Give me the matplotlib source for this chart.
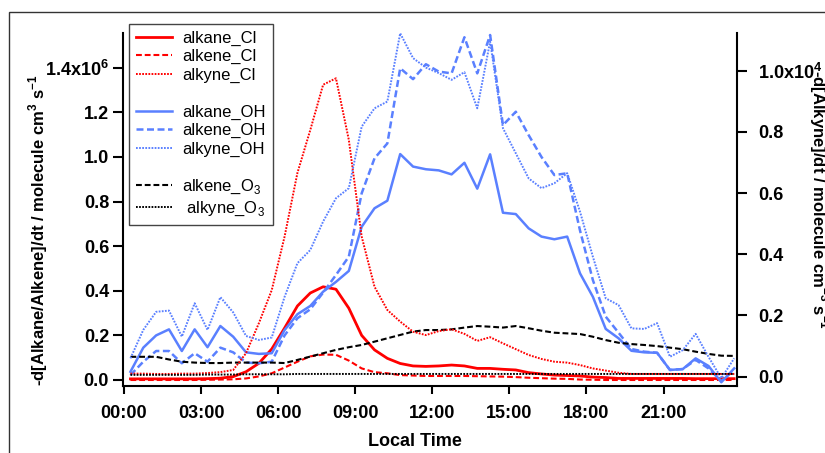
import matplotlib
matplotlib.use('Agg')
import matplotlib.pyplot as plt
import numpy as np
from matplotlib.lines import Line2D
from matplotlib.patches import Rectangle

plt.rcParams['font.family'] = ['Liberation Sans', 'DejaVu Sans']
plt.rcParams['mathtext.fontset'] = 'custom'
plt.rcParams['mathtext.rm'] = 'Liberation Sans'
plt.rcParams['mathtext.bf'] = 'Liberation Sans:bold'

# half-hour bins, hours of local time
hours = np.arange(0.25, 24, 0.5)

# left axis, units of 1e6 molecule cm-3 s-1
alkane_cl = [0.005, 0.005, 0.005, 0.005, 0.005, 0.005, 0.006, 0.008, 0.015, 0.037,
             0.075, 0.139, 0.233, 0.332, 0.39, 0.418, 0.407, 0.322, 0.2, 0.135,
             0.097, 0.074, 0.063, 0.061, 0.063, 0.067, 0.063, 0.052, 0.052, 0.048,
             0.045, 0.033, 0.027, 0.022, 0.02, 0.018, 0.013, 0.011, 0.007, 0.007,
             0.007, 0.007, 0.007, 0.007, 0.006, 0.006, 0.006, 0.006]
alkene_cl = [0.0, 0.0, 0.0, 0.0, 0.0, 0.0, 0.001, 0.002, 0.003, 0.007,
             0.016, 0.03, 0.056, 0.082, 0.106, 0.114, 0.113, 0.087, 0.052, 0.035,
             0.03, 0.022, 0.02, 0.018, 0.018, 0.018, 0.018, 0.017, 0.016, 0.015,
             0.013, 0.01, 0.008, 0.006, 0.005, 0.002, 0.001, 0.0, 0.0, 0.0,
             0.0, 0.0, 0.0, 0.0, 0.0, 0.0, 0.0, 0.0]
alkane_oh = [0.037, 0.145, 0.2, 0.227, 0.13, 0.227, 0.147, 0.242, 0.194, 0.124,
             0.117, 0.12, 0.224, 0.295, 0.332, 0.396, 0.44, 0.489, 0.687, 0.77,
             0.804, 1.013, 0.957, 0.945, 0.94, 0.922, 0.974, 0.858, 1.012, 0.75,
             0.744, 0.68, 0.643, 0.631, 0.643, 0.478, 0.373, 0.229, 0.187, 0.131,
             0.124, 0.122, 0.045, 0.049, 0.097, 0.063, -0.01, 0.052]
alkene_oh = [0.022, 0.082, 0.13, 0.13, 0.075, 0.12, 0.082, 0.145, 0.124, 0.078,
             0.075, 0.082, 0.2, 0.277, 0.317, 0.392, 0.471, 0.553, 0.837, 0.994,
             1.061, 1.398, 1.349, 1.416, 1.383, 1.375, 1.537, 1.375, 1.547, 1.143,
             1.203, 1.098, 1.0, 0.919, 0.927, 0.67, 0.448, 0.284, 0.212, 0.139,
             0.127, 0.122, 0.045, 0.049, 0.09, 0.052, -0.005, 0.045]
alkene_o3 = [0.104, 0.104, 0.104, 0.092, 0.082, 0.078, 0.076, 0.076, 0.078, 0.078,
             0.078, 0.078, 0.076, 0.09, 0.105, 0.12, 0.135, 0.147, 0.157, 0.172,
             0.187, 0.202, 0.217, 0.224, 0.224, 0.227, 0.235, 0.242, 0.239, 0.235,
             0.242, 0.232, 0.221, 0.212, 0.209, 0.206, 0.194, 0.179, 0.167, 0.161,
             0.157, 0.152, 0.145, 0.138, 0.127, 0.117, 0.109, 0.108]

# right axis, units of 1e4 molecule cm-3 s-1
alkyne_cl = [0.010, 0.010, 0.009, 0.009, 0.010, 0.010, 0.012, 0.015, 0.022, 0.077,
             0.175, 0.283, 0.458, 0.666, 0.806, 0.954, 0.975, 0.774, 0.458, 0.294,
             0.218, 0.18, 0.147, 0.136, 0.149, 0.155, 0.14, 0.117, 0.129, 0.109,
             0.09, 0.071, 0.058, 0.049, 0.046, 0.038, 0.027, 0.02, 0.013, 0.009,
             0.009, 0.009, 0.009, 0.009, 0.009, 0.009, 0.009, 0.009]
alkyne_oh = [0.06, 0.153, 0.212, 0.216, 0.131, 0.24, 0.153, 0.26, 0.21, 0.133,
             0.12, 0.128, 0.261, 0.371, 0.414, 0.507, 0.583, 0.616, 0.817, 0.877,
             0.899, 1.122, 1.041, 1.01, 0.992, 0.97, 0.995, 0.877, 1.095, 0.812,
             0.73, 0.648, 0.616, 0.632, 0.665, 0.539, 0.392, 0.256, 0.234, 0.158,
             0.156, 0.175, 0.065, 0.087, 0.14, 0.065, -0.005, 0.06]
alkyne_o3 = [0.006, 0.006, 0.006, 0.006, 0.006, 0.006, 0.007, 0.007, 0.007, 0.008,
             0.008, 0.008, 0.008, 0.009, 0.009, 0.009, 0.009, 0.009, 0.009, 0.009,
             0.009, 0.009, 0.009, 0.009, 0.009, 0.009, 0.009, 0.009, 0.009, 0.009,
             0.009, 0.009, 0.009, 0.009, 0.009, 0.009, 0.009, 0.009, 0.009, 0.009,
             0.009, 0.009, 0.009, 0.009, 0.009, 0.009, 0.009, 0.009]

xticks = [0, 3, 6, 9, 12, 15, 18, 21]
xticklabels = ['00:00', '03:00', '06:00', '09:00', '12:00', '15:00', '18:00', '21:00']
lticks = [0.0, 0.2, 0.4, 0.6, 0.8, 1.0, 1.2, 1.4]
lticklabels = ['0.0', '0.2', '0.4', '0.6', '0.8', '1.0', '1.2', r'1.4x10$^\mathbf{6}$']
rticks = [0.0, 0.2, 0.4, 0.6, 0.8, 1.0]
rticklabels = ['0.0', '0.2', '0.4', '0.6', '0.8', r'1.0x10$^\mathbf{4}$']

red = '#ff0000'
blue = '#5a80ff'
dash = (0, (2.8, 1.4))
dot = (0, (0.9, 0.7))
tick_fs = 13
label_fs = 12

fig = plt.figure(figsize=(8.25, 4.53), dpi=100)
ax = fig.add_axes([123 / 825, 1 - 385.7 / 453, 614 / 825, 352.7 / 453])
ax2 = ax.twinx()

ax.plot(hours, alkane_cl, color=red, lw=2.0, ls='-')
ax.plot(hours, alkene_cl, color=red, lw=1.5, ls=dash)
ax2.plot(hours, alkyne_cl, color=red, lw=1.4, ls=dot)
ax.plot(hours, alkane_oh, color=blue, lw=1.8, ls='-')
ax.plot(hours, alkene_oh, color=blue, lw=1.8, ls=dash)
ax2.plot(hours, alkyne_oh, color=blue, lw=1.4, ls=dot)
ax.plot(hours, alkene_o3, color='black', lw=1.5, ls=dash)
ax2.plot(hours, alkyne_o3, color='black', lw=1.4, ls=dot)

ax.set_xlim(-0.04, 23.86)
ax.set_ylim(-0.0256, 1.556)
ax2.set_ylim(-0.0294, 1.123)

for a in (ax, ax2):
    a.spines['top'].set_visible(False)
    for s in a.spines.values():
        s.set_linewidth(1.5)
ax.spines['right'].set_visible(False)
ax2.spines['left'].set_visible(False)
ax2.spines['bottom'].set_visible(False)

ax.set_xticks(xticks)
ax.set_xticklabels(xticklabels)
ax.set_yticks(lticks)
ax.set_yticklabels(lticklabels)
ax2.set_yticks(rticks)
ax2.set_yticklabels(rticklabels)

ax.tick_params(axis='x', length=6, width=1.5, pad=8, labelsize=tick_fs)
ax.tick_params(axis='y', length=7, width=1.5, pad=3, labelsize=tick_fs)
ax2.tick_params(axis='y', length=7, width=1.5, pad=8, labelsize=tick_fs)
for lab in ax.get_xticklabels() + ax.get_yticklabels() + ax2.get_yticklabels():
    lab.set_fontweight('bold')

fig.text(415 / 825, 1 - 441 / 453, 'Local Time', ha='center', va='center',
         fontsize=tick_fs, fontweight='bold')
fig.text(38 / 825, 1 - 386 / 453, r'-d[Alkane/Alkene]/dt / molecule cm$^\mathbf{3}$ s$^\mathbf{-1}$',
         rotation=90, ha='center', va='bottom', fontsize=label_fs, fontweight='bold')
fig.text(819 / 825, 1 - 70 / 453, r'-d[Alkyne]/dt / molecule cm$^\mathbf{-3}$ s$^\mathbf{-1}$',
         rotation=270, ha='center', va='top', fontsize=label_fs, fontweight='bold')

blank = Line2D([], [], color='none')
handles = [
    Line2D([], [], color=red, lw=2.0, ls='-'),
    Line2D([], [], color=red, lw=1.5, ls=dash),
    Line2D([], [], color=red, lw=1.4, ls=dot),
    blank,
    Line2D([], [], color=blue, lw=1.8, ls='-'),
    Line2D([], [], color=blue, lw=1.8, ls=dash),
    Line2D([], [], color=blue, lw=1.4, ls=dot),
    blank,
    Line2D([], [], color='black', lw=1.5, ls=dash),
    Line2D([], [], color='black', lw=1.4, ls=dot),
]
labels = ['alkane_Cl', 'alkene_Cl', 'alkyne_Cl', ' ', 'alkane_OH', 'alkene_OH',
          'alkyne_OH', ' ', 'alkene_O$_3$', ' alkyne_O$_3$']
leg = ax.legend(handles, labels, loc='upper left',
                bbox_to_anchor=(6 / 614, (385.7 - 24) / 352.7), borderaxespad=0,
                fontsize=12, handlelength=2.2, handletextpad=0.6,
                labelspacing=0.2, borderpad=0.4, fancybox=False, framealpha=1)
leg.get_frame().set_edgecolor('#444444')
leg.get_frame().set_linewidth(1.0)

fig.add_artist(Rectangle((9 / 825, -0.1), 1.2, 1.1 - 12 / 453, transform=fig.transFigure,
                         fill=False, edgecolor='#333333', lw=1.0))

fig.savefig('out.png', dpi=100)
